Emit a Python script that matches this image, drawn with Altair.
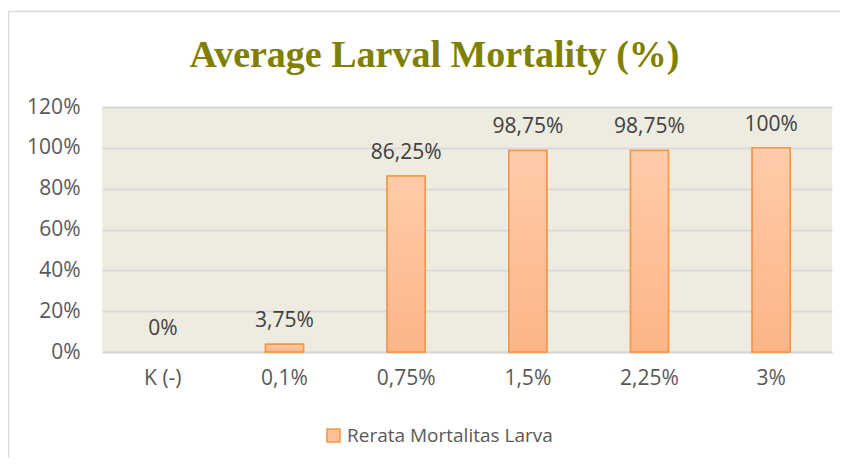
import altair as alt
import pandas as pd

categories = ["K (-)", "0,1%", "0,75%", "1,5%", "2,25%", "3%"]
values = [0.0, 0.0375, 0.8625, 0.9875, 0.9875, 1.0]
value_labels = ["0%", "3,75%", "86,25%", "98,75%", "98,75%", "100%"]
series_name = "Rerata Mortalitas Larva"
chart_title = "Average Larval Mortality (%)"
y_ticks = [0, 0.2, 0.4, 0.6, 0.8, 1.0, 1.2]

df = pd.DataFrame({
    "cat": categories,
    "val": values,
    "lab": value_labels,
    "series": [series_name] * len(categories),
})

FONT = "Open Sans"
x_enc = alt.X("cat:N", sort=categories, title=None,
              scale=alt.Scale(paddingInner=0.0, paddingOuter=0.0),
              axis=alt.Axis(labelAngle=0, labelFont=FONT, labelFontSize=21,
                            labelColor="#595959", ticks=False, labelPadding=15,
                            domain=True, domainColor="#D9D9D9", domainWidth=2,
                            grid=False))
y_enc = alt.Y("val:Q", title=None,
              scale=alt.Scale(domain=[0, 1.2], nice=False),
              axis=alt.Axis(values=y_ticks, format=".0%", labelFont=FONT,
                            labelFontSize=21, labelColor="#595959", ticks=False,
                            domain=False, gridColor="#D9D9D9", gridWidth=2,
                            labelPadding=22))

base = alt.Chart(df)

legend_bars = base.transform_filter("datum.val > 0").mark_bar(
    size=38, stroke="#F79646", strokeWidth=1.5).encode(
    x=x_enc, y=y_enc,
    color=alt.Color("series:N", title=None,
                    scale=alt.Scale(range=["#FDBE98"]),
                    legend=alt.Legend(orient="none", legendX=222, legendY=319,
                                      symbolType="square", symbolSize=170,
                                      symbolStrokeColor="#F79646",
                                      symbolStrokeWidth=1.5,
                                      symbolFillColor="#FDC29E",
                                      labelFont=FONT, labelFontSize=19,
                                      labelColor="#595959", padding=0,
                                      labelOffset=4, labelLimit=0)),
)

grad = alt.Gradient(gradient="linear", x1=0, x2=0, y1=0, y2=1,
                    stops=[alt.GradientStop(color="#FFCCAA", offset=0),
                           alt.GradientStop(color="#FDB488", offset=1)])
grad_bars = base.transform_filter("datum.val > 0").mark_bar(
    size=38, stroke="#F79646", strokeWidth=1.5, fill=grad).encode(x=x_enc, y=y_enc)

labels = base.mark_text(font=FONT, fontSize=21, color="#404040",
                        baseline="alphabetic", dy=-17).encode(
    x=x_enc, y=y_enc, text="lab:N")

one = alt.Data(values=[{"t": chart_title}])
title_mark = alt.Chart(one).mark_text(
    font="Liberation Serif", fontSize=38, fontWeight="bold", color="#808000",
    align="center", baseline="alphabetic").encode(
    x=alt.value(332.5), y=alt.value(-40), text="t:N")

frame_left = alt.Chart(one).mark_rule(color="#D9D9D9", strokeWidth=1.5).encode(
    x=alt.value(-93.5), y=alt.value(-95.5), y2=alt.value(400))
frame_top = alt.Chart(one).mark_rule(color="#D9D9D9", strokeWidth=1.5).encode(
    x=alt.value(-93.5), x2=alt.value(800), y=alt.value(-95.5))

chart = alt.layer(legend_bars, grad_bars, labels, title_mark,
                  frame_left, frame_top).properties(
    width=730, height=245,
    autosize=alt.AutoSizeParams(type="none"),
    padding={"left": 94, "top": 99, "right": 8, "bottom": 106},
).configure(background="white").configure_view(fill="#EEECE1", stroke=None)

chart.save("out.html", embed_options={"renderer": "svg", "actions": False})
